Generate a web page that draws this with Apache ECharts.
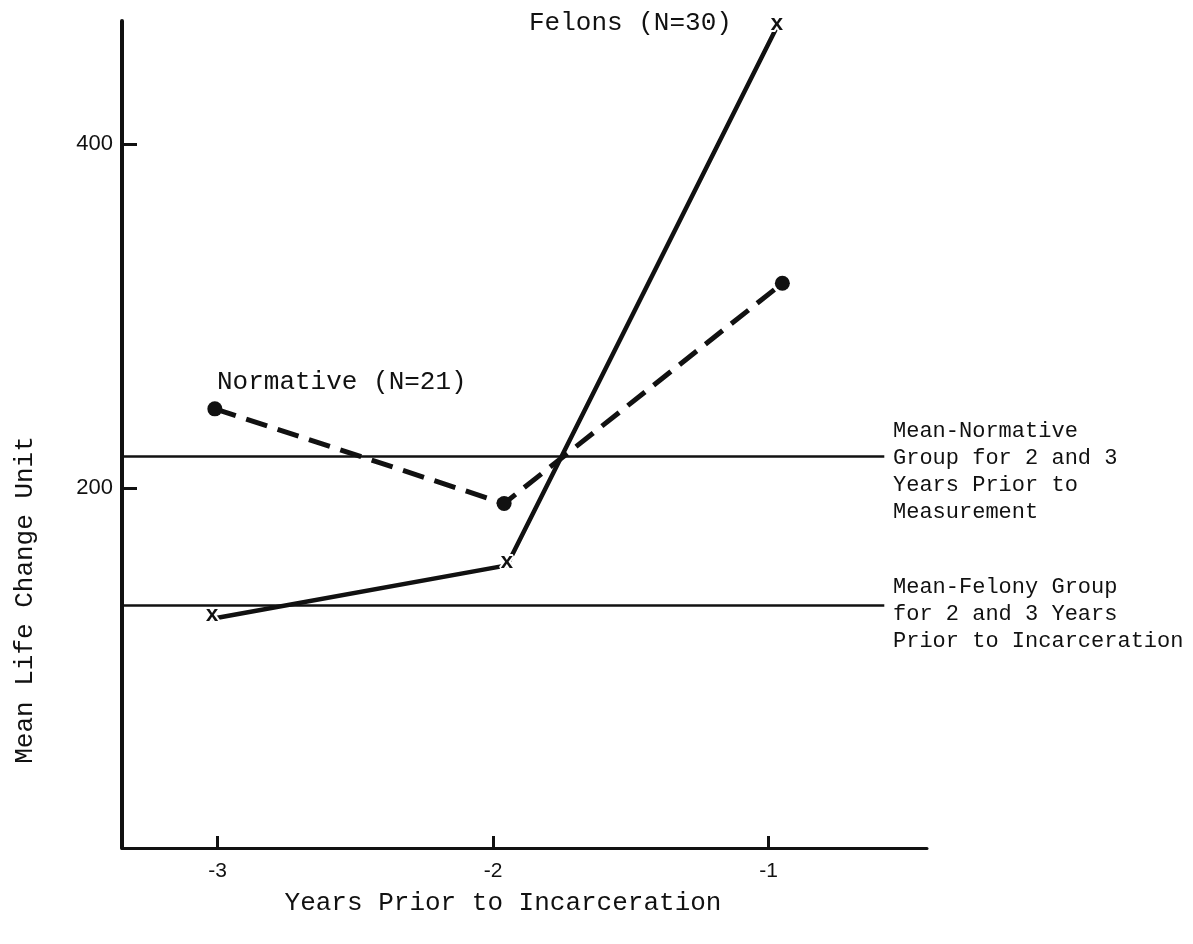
<!DOCTYPE html>
<html>
<head>
<meta charset="utf-8">
<script src="https://cdn.jsdelivr.net/npm/echarts@6/dist/echarts.min.js"></script>
<style>
  html, body { margin: 0; padding: 0; background: #fff; }
  #chart { width: 1193px; height: 944px; }
</style>
</head>
<body>
<div id="chart"></div>
<script>
// 数据：从图上读取
var xTicks = [-3, -2, -1];
var yTicks = [200, 400];

// Felons (N=30)
var felonX = [-3.02, -1.95, -0.97];
var felonY = [124, 155, 468];

// Normative (N=21)
var normX = [-3.01, -1.96, -0.95];
var normY = [246, 191, 319];

// 2、3年的组平均
var normMean = 218.5;
var felonMean = 132;
var meanLineEnd = -0.58;

var xMin = -3.347, xMax = -0.425;
var yMin = -9.3, yMax = 471.5;

var mono = '"Liberation Mono", "DejaVu Sans Mono", monospace';
var ink = '#111';

var chart = echarts.init(document.getElementById('chart'));

function pairs(xs, ys) {
    return xs.map(function (x, i) { return [x, ys[i]]; });
}

var option = {
    backgroundColor: '#fff',
    animation: false,
    grid: { left: 122, right: 266, top: 21, bottom: 96 },
    xAxis: {
        type: 'value',
        min: xMin,
        max: xMax,
        axisLine: { onZero: false, lineStyle: { color: ink, width: 3 } },
        axisTick: { inside: true, length: 12, customValues: xTicks, lineStyle: { color: ink, width: 3 } },
        axisLabel: {
            customValues: xTicks,
            color: ink,
            fontFamily: '"Liberation Sans", Arial, sans-serif',
            fontSize: 21,
            margin: 13
        },
        splitLine: { show: false }
    },
    yAxis: {
        type: 'value',
        min: yMin,
        max: yMax,
        axisLine: { show: true, onZero: false, lineStyle: { color: ink, width: 4 } },
        axisTick: { show: true, inside: true, length: 15, customValues: yTicks, lineStyle: { color: ink, width: 3 } },
        axisLabel: {
            customValues: yTicks,
            color: ink,
            fontFamily: '"Liberation Sans", Arial, sans-serif',
            fontSize: 22,
            margin: 9
        },
        splitLine: { show: false }
    },
    series: [
        {
            name: 'Normative (N=21)',
            type: 'line',
            data: pairs(normX, normY),
            symbol: 'circle',
            symbolSize: 15,
            itemStyle: { color: ink },
            lineStyle: { color: ink, width: 5, type: [22, 11] },
            markLine: {
                silent: true,
                symbol: 'none',
                label: { show: false },
                lineStyle: { color: ink, width: 2.5, type: 'solid' },
                data: [
                    [{ coord: [xMin, normMean] }, { coord: [meanLineEnd, normMean] }],
                    [{ coord: [xMin, felonMean] }, { coord: [meanLineEnd, felonMean] }]
                ]
            },
            z: 3
        },
        {
            name: 'Felons (N=30)',
            type: 'line',
            data: pairs(felonX, felonY),
            symbol: 'circle',
            symbolSize: 1,
            itemStyle: { color: ink },
            lineStyle: { color: ink, width: 4.5 },
            label: {
                show: true,
                position: 'inside',
                formatter: 'x',
                offset: [0, -3],
                fontFamily: mono,
                fontWeight: 'bold',
                fontSize: 22,
                color: ink,
                textBorderColor: '#fff',
                textBorderWidth: 4
            },
            z: 4
        }
    ],
    graphic: [
        {
            type: 'text', left: 529, top: 10,
            style: { text: 'Felons (N=30)', font: '26px ' + mono, fill: ink }
        },
        {
            type: 'text', left: 217, top: 369,
            style: { text: 'Normative (N=21)', font: '26px ' + mono, fill: ink }
        },
        {
            type: 'text', left: 893, top: 418,
            style: {
                text: 'Mean-Normative\nGroup for 2 and 3\nYears Prior to\nMeasurement',
                font: '22px ' + mono, fill: ink, lineHeight: 27
            }
        },
        {
            type: 'text', left: 893, top: 574,
            style: {
                text: 'Mean-Felony Group\nfor 2 and 3 Years\nPrior to Incarceration',
                font: '22px ' + mono, fill: ink, lineHeight: 27
            }
        },
        {
            type: 'text', x: 503, y: 903,
            style: {
                text: 'Years Prior to Incarceration', font: '26px ' + mono, fill: ink,
                textAlign: 'center', textVerticalAlign: 'middle'
            }
        },
        {
            type: 'text', x: 25, y: 600, rotation: Math.PI / 2,
            style: {
                text: 'Mean Life Change Unit', font: '26px ' + mono, fill: ink,
                textAlign: 'center', textVerticalAlign: 'middle'
            }
        }
    ]
};

chart.setOption(option);
</script>
</body>
</html>
